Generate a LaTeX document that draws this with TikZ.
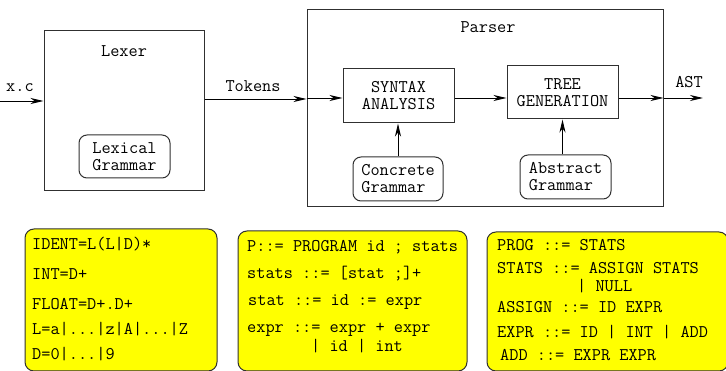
\documentclass[tikz,border=0pt]{standalone}
\usepackage{fontspec}
\usetikzlibrary{arrows.meta}
\definecolor{gramyellow}{HTML}{FFFF00}
\definecolor{edge}{HTML}{303030}
\newcommand{\codesize}{\ttfamily\fontsize{17.8}{17}\selectfont}
\tikzset{
  lbl/.style={font=\codesize, inner sep=0pt, align=center},
  block/.style={draw=edge, line width=1pt, inner sep=0pt},
  gram/.style={draw=edge, line width=1pt, rounded corners=8pt, inner sep=0pt,
    font=\codesize, align=left},
  rulebox/.style={draw=edge, line width=1pt, rounded corners=9pt, fill=gramyellow},
  rule/.style={font=\codesize, inner sep=0pt, anchor=base west},
  flow/.style={draw=black, line width=0.9pt, -{Stealth[length=13pt,width=6pt,inset=4pt]}},
}
\begin{document}
\begin{tikzpicture}[x=1pt,y=-1pt]
\useasboundingbox (0,0) rectangle (726,371);

% lexer stage
\node[block, minimum width=160, minimum height=160] (lexer) at (124,111) {};
\node[lbl] (lexertitle) at (124,51) {Lexer};
\node[gram, minimum width=91, minimum height=43] (lexgram) at (124.5,156.5) {Lexical\\Grammar};

% parser stage
\node[block, minimum width=356, minimum height=197] (parser) at (485,108.5) {};
\node[lbl] (parsertitle) at (488,27) {Parser};
\node[block, minimum width=111, minimum height=54, lbl, draw=edge, line width=1pt] (syntax) at (398.5,96) {SYNTAX\\ANALYSIS};
\node[block, minimum width=111, minimum height=53, lbl, draw=edge, line width=1pt] (tree) at (562.5,92.5) {TREE\\GENERATION};
\node[gram, minimum width=90, minimum height=44] (concrete) at (398,179) {Concrete\\Grammar};
\node[gram, minimum width=91, minimum height=44] (abstract) at (565.5,177) {Abstract\\Grammar};

% input and output
\coordinate (src) at (0,101);
\coordinate (out) at (703,98);
\node[lbl] (xclabel) at (20,88) {x.c};
\node[lbl] (toklabel) at (253,86) {Tokens};
\node[lbl] (astlabel) at (689,82) {AST};

% connectors
\draw[flow] (src) -- (src -| lexer.west);
\draw[flow] (lexer.east |- 0,99) -- (parser.west |- 0,99);
\draw[flow] (parser.west |- 0,98) -- (syntax.west |- 0,98);
\draw[flow] (syntax.east |- 0,98) -- (tree.west |- 0,98);
\draw[flow] (tree.east |- 0,98) -- (parser.east |- 0,98);
\draw[flow] (parser.east |- out) -- (out);
\draw[flow] (concrete.north) -- (concrete.north |- syntax.south);
\draw[flow] (abstract.north -| tree.south) -- (tree.south);

% grammar definitions
\node[rulebox, minimum width=192, minimum height=142] (regdefs) at (121,300) {};
\node[rule] (r1) at (32,250) {IDENT=L(L|D)*};
\node[rule] (r2) at (32,280) {INT=D+};
\node[rule] (r3) at (32,310) {FLOAT=D+.D+};
\node[rule] (r4) at (32,335) {L=a|...|z|A|...|Z};
\node[rule] (r5) at (32,360) {D=0|...|9};

\node[rulebox, minimum width=229, minimum height=140] (cfg) at (352.5,301) {};
\node[rule] (c1) at (247,252) {P::= PROGRAM id ; stats};
\node[rule] (c2) at (247,279) {stats ::= [stat ;]+};
\node[rule] (c3) at (248,306) {stat ::= id := expr};
\node[rule] (c4) at (247,332.5) {expr ::= expr + expr};
\node[rule] (c5) at (311,352) {| id | int};

\node[rulebox, minimum width=241, minimum height=139] (ast) at (607.5,301.5) {};
\node[rule] (a1) at (497,251) {PROG ::= STATS};
\node[rule] (a2) at (497,274) {STATS ::= ASSIGN STATS};
\node[rule] (a3) at (577,291.5) {| NULL};
\node[rule] (a4) at (497,313) {ASSIGN ::= ID EXPR};
\node[rule] (a5) at (497,338) {EXPR ::= ID | INT | ADD};
\node[rule] (a6) at (500,361) {ADD ::= EXPR EXPR};
\end{tikzpicture}
\end{document}
